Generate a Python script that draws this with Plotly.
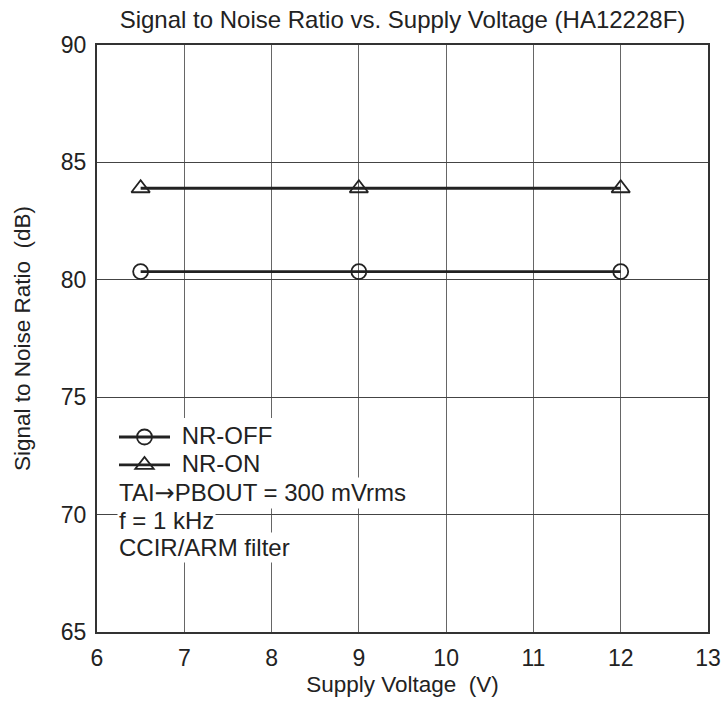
import plotly.graph_objects as go

voltage = [6.5, 9, 12]
nr_off = [80.35, 80.35, 80.35]
nr_on = [83.9, 83.9, 83.9]
x_ticks = [6, 7, 8, 9, 10, 11, 12, 13]
y_ticks = [65, 70, 75, 80, 85, 90]
notes = ["TAI<span style=\"font-family:'DejaVu Sans'\">\u2192</span>PBOUT = 300 mVrms",
         "f = 1 kHz", "CCIR/ARM filter"]

FONT = "Liberation Sans, Arial, sans-serif"
INK = "#222222"

fig = go.Figure()
fig.add_trace(go.Scatter(
    x=voltage, y=nr_off, name="<span style=\"font-size:24px\">\u00a0NR-OFF</span>", mode="lines+markers",
    line=dict(color=INK, width=2.8),
    marker=dict(symbol="circle-open", size=15, color=INK, line=dict(width=1.8)),
))
fig.add_trace(go.Scatter(
    x=voltage, y=nr_on, name="<span style=\"font-size:24px\">\u00a0NR-ON</span>", mode="lines+markers",
    line=dict(color=INK, width=2.8),
    marker=dict(symbol="triangle-up-open", size=16, color=INK, line=dict(width=1.8)),
))

W, H = 724, 704
L, T = 97, 45
pw, ph = 611, 587
R = W - L - pw
B = H - T - ph

def py2paper(py):
    return (T + ph - py) / ph

def px2paper(px):
    return (px - L) / pw

for i, txt in enumerate(notes):
    fig.add_annotation(
        x=px2paper(117), y=py2paper(493 + 27 * i),
        xref="paper", yref="paper", xanchor="left", yanchor="middle",
        text=txt, showarrow=False, bgcolor="white", borderpad=1,
        font=dict(family=FONT, size=24, color=INK),
    )

fig.update_layout(
    width=W, height=H,
    margin=dict(l=L, r=R, t=T, b=B, autoexpand=False),
    paper_bgcolor="white", plot_bgcolor="white",
    font=dict(family=FONT, color=INK),
    title=dict(text="Signal to Noise Ratio vs. Supply Voltage (HA12228F)",
               x=0.5, xanchor="center", xref="paper", y=1 - 20 / H, yanchor="middle",
               font=dict(family=FONT, size=24, color=INK)),
    showlegend=True,
    legend=dict(
        x=px2paper(114), y=py2paper(418), xanchor="left", yanchor="top",
        bgcolor="white", borderwidth=0, tracegroupgap=0,
        font=dict(family=FONT, size=19.2, color=INK),
        itemwidth=51,
    ),
)

fig.update_xaxes(
    range=[6, 13], tickvals=x_ticks, ticktext=[str(v) for v in x_ticks],
    showgrid=True, gridcolor="#666666", gridwidth=1,
    showline=True, linecolor="#333333", linewidth=2, mirror=True,
    ticks="", ticklabelstandoff=4, automargin=False,
    tickfont=dict(family=FONT, size=23, color=INK),
    title=dict(text="Supply Voltage  (V)", font=dict(family=FONT, size=22.5, color=INK), standoff=7),
    zeroline=False,
)
fig.update_yaxes(
    range=[65, 90], tickvals=y_ticks, ticktext=[str(v) for v in y_ticks],
    showgrid=True, gridcolor="#444444", gridwidth=1,
    showline=True, linecolor="#333333", linewidth=2, mirror=True,
    ticks="", ticklabelstandoff=4, automargin=False,
    tickfont=dict(family=FONT, size=23, color=INK),
    title=dict(text="Signal to Noise Ratio  (dB)", font=dict(family=FONT, size=22.5, color=INK), standoff=24),
    zeroline=False,
)

fig.write_html(
    "out.html",
    config={"displayModeBar": False},
    post_script="document.body.style.margin='0';document.body.style.overflow='hidden';",
)
